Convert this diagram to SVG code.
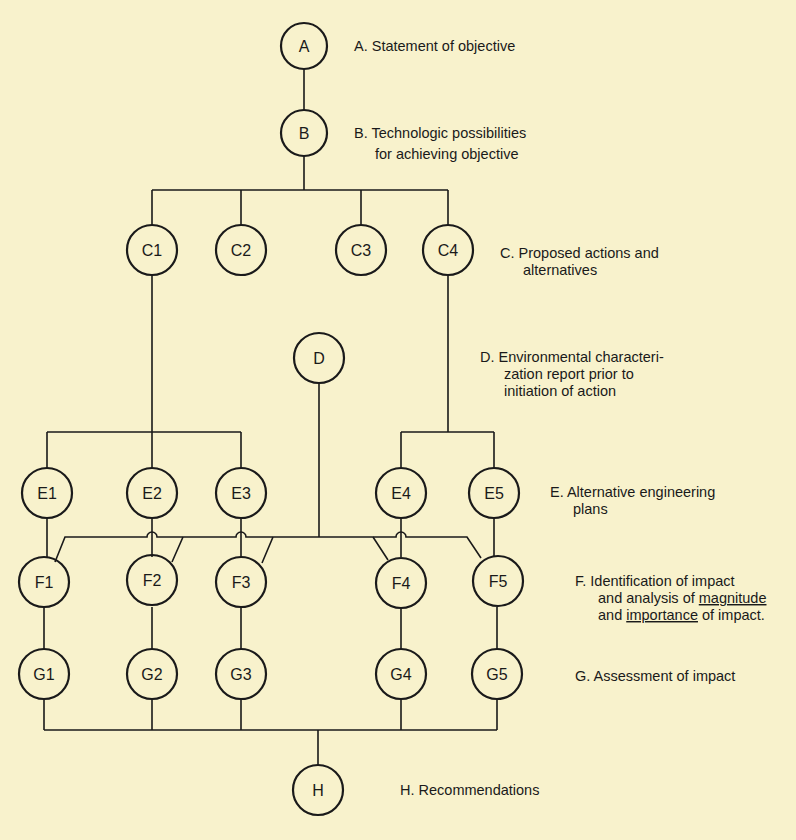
<svg xmlns="http://www.w3.org/2000/svg" width="796" height="840" viewBox="0 0 796 840">
<style>
.n circle{fill:none;stroke:#1a1a1a;stroke-width:2.2}
.n text{font-family:"Liberation Sans",Arial,sans-serif;font-size:16px;text-anchor:middle;dominant-baseline:central;fill:#1a1a1a}
.l{font-family:"Liberation Sans",Arial,sans-serif;font-size:14.5px;fill:#1a1a1a;white-space:pre}
#conn path{fill:none;stroke:#1a1a1a;stroke-width:1.6}
</style>
<rect width="796" height="840" fill="#f8f2cc"/>
<g id="conn">
<path d="M304 69V110M304 156V190M152 190H448M152 190V225M241 190V225M361 190V225M448 190V225"/>
<path d="M152 275V432M47 432H241M47 432V468M152 432V468M241 432V468"/>
<path d="M448 275V432M401 432H494M401 432V468M494 432V468"/>
<path d="M319 383V537"/>
<path d="M47 518V557M152 518V557M241 518V557M401 518V557M494 518V557"/>
<path d="M55 562L65 537H147A5 5 0 0 1 157 537H236A5 5 0 0 1 246 537H396A5 5 0 0 1 406 537H467L481 558"/>
<path d="M183 537L172 562M273 537L262 563M373 537L388 560"/>
<path d="M44 607V649M152 607V649M241 607V649M401 607V649M497 607V649"/>
<path d="M44 699V730M152 699V730M241 699V730M401 699V730M497 699V730M44 730H497M318 730V765"/>
</g>
<g id="A" class="n"><circle cx="304" cy="46" r="23"/><text x="304" y="46">A</text></g>
<g id="B" class="n"><circle cx="304" cy="133" r="23"/><text x="304" y="133">B</text></g>
<g id="C1" class="n"><circle cx="152" cy="250" r="25"/><text x="152" y="250">C1</text></g>
<g id="C2" class="n"><circle cx="241" cy="250" r="25"/><text x="241" y="250">C2</text></g>
<g id="C3" class="n"><circle cx="361" cy="250" r="25"/><text x="361" y="250">C3</text></g>
<g id="C4" class="n"><circle cx="448" cy="250" r="25"/><text x="448" y="250">C4</text></g>
<g id="D" class="n"><circle cx="319" cy="358" r="25"/><text x="319" y="358">D</text></g>
<g id="E1" class="n"><circle cx="47" cy="493" r="25"/><text x="47" y="493">E1</text></g>
<g id="E2" class="n"><circle cx="152" cy="493" r="25"/><text x="152" y="493">E2</text></g>
<g id="E3" class="n"><circle cx="241" cy="493" r="25"/><text x="241" y="493">E3</text></g>
<g id="E4" class="n"><circle cx="401" cy="493" r="25"/><text x="401" y="493">E4</text></g>
<g id="E5" class="n"><circle cx="494" cy="493" r="25"/><text x="494" y="493">E5</text></g>
<g id="F1" class="n"><circle cx="44" cy="582" r="25"/><text x="44" y="582">F1</text></g>
<g id="F2" class="n"><circle cx="152" cy="580" r="25"/><text x="152" y="580">F2</text></g>
<g id="F3" class="n"><circle cx="241" cy="582" r="25"/><text x="241" y="582">F3</text></g>
<g id="F4" class="n"><circle cx="401" cy="583" r="25"/><text x="401" y="583">F4</text></g>
<g id="F5" class="n"><circle cx="498" cy="581" r="25"/><text x="498" y="581">F5</text></g>
<g id="G1" class="n"><circle cx="44" cy="674" r="25"/><text x="44" y="674">G1</text></g>
<g id="G2" class="n"><circle cx="152" cy="674" r="25"/><text x="152" y="674">G2</text></g>
<g id="G3" class="n"><circle cx="241" cy="674" r="25"/><text x="241" y="674">G3</text></g>
<g id="G4" class="n"><circle cx="401" cy="674" r="25"/><text x="401" y="674">G4</text></g>
<g id="G5" class="n"><circle cx="497" cy="674" r="25"/><text x="497" y="674">G5</text></g>
<g id="H" class="n"><circle cx="318" cy="790" r="25"/><text x="318" y="790">H</text></g>
<g id="labels" class="l">
<text x="354" y="51">A.  Statement of objective</text>
<text x="354" y="138">B.  Technologic possibilities</text>
<text x="375" y="159">for achieving objective</text>
<text x="500" y="258">C.  Proposed actions and</text>
<text x="523" y="275">alternatives</text>
<text x="480" y="362">D.  Environmental characteri-</text>
<text x="504" y="379">zation report prior to</text>
<text x="504" y="396">initiation of action</text>
<text x="550" y="497">E.  Alternative engineering</text>
<text x="573" y="514">plans</text>
<text x="575" y="586">F.  Identification of impact</text>
<text x="598" y="603">and analysis of <tspan text-decoration="underline">magnitude</tspan></text>
<text x="598" y="620">and <tspan text-decoration="underline">importance</tspan> of impact.</text>
<text x="575" y="681">G.  Assessment of impact</text>
<text x="400" y="795">H.  Recommendations</text>
</g>
</svg>
